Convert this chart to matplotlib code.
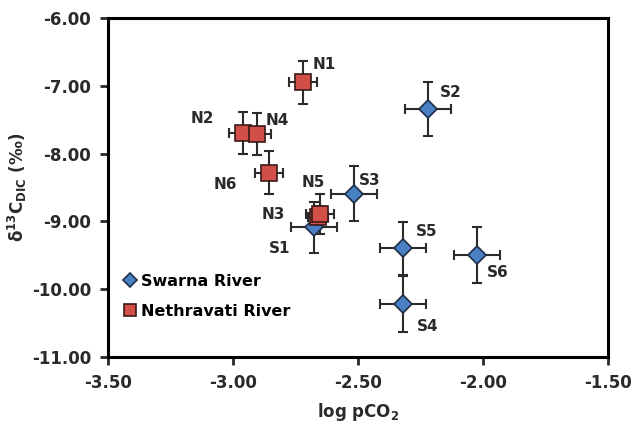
import matplotlib
matplotlib.use("Agg")
import matplotlib.pyplot as plt

plt.rcParams['font.family'] = ['DejaVu Sans']
plt.rcParams['font.weight'] = 'bold'
plt.rcParams['mathtext.default'] = 'bf'

# Swarna River (diamonds)
s_names = ['S1', 'S2', 'S3', 'S4', 'S5', 'S6']
s_x = [-2.675, -2.22, -2.515, -2.32, -2.32, -2.025]
s_y = [-9.09, -7.34, -8.59, -10.22, -9.40, -9.50]
s_xerr = [0.092, 0.092, 0.092, 0.092, 0.092, 0.092]
s_yerr = [0.38, 0.40, 0.40, 0.41, 0.39, 0.41]

# Nethravati River (squares)
n_names = ['N1', 'N2', 'N3', 'N4', 'N5', 'N6']
n_x = [-2.72, -2.96, -2.66, -2.905, -2.65, -2.855]
n_y = [-6.95, -7.70, -8.93, -7.71, -8.89, -8.28]
n_xerr = [0.056, 0.056, 0.04, 0.056, 0.056, 0.056]
n_yerr = [0.32, 0.31, 0.15, 0.31, 0.30, 0.31]

# label offsets in pixels (dx, dy, ha)
s_off = {'S1': (-24, -21, 'right'), 'S2': (12, 16, 'left'), 'S3': (5, 13, 'left'),
         'S4': (14, -22, 'left'), 'S5': (13, 17, 'left'), 'S6': (10, -17, 'left')}
n_off = {'N1': (10, 18, 'left'), 'N2': (-29, 15, 'right'), 'N3': (-33, 2, 'right'),
         'N4': (9, 13, 'left'), 'N5': (-7, 31, 'center'), 'N6': (-32, -12, 'right')}

fig = plt.figure(figsize=(6.35, 4.25), dpi=100)
ax = fig.add_axes([0.170, 0.160, 0.787, 0.798])

ebkw = dict(fmt='none', ecolor='#2b2b2b', elinewidth=1.5, capsize=3.5, capthick=1.5, zorder=2)
ax.errorbar(s_x, s_y, xerr=s_xerr, yerr=s_yerr, **ebkw)
ax.errorbar(n_x, n_y, xerr=n_xerr, yerr=n_yerr, **ebkw)

ax.plot(s_x, s_y, 'D', ms=9.5, mfc='#4a80c4', mec='#1f2d45', mew=1.2,
        ls='none', label='Swarna River', zorder=3)
ax.plot(n_x, n_y, 's', ms=11, mfc='#d24f47', mec='#3a1a18', mew=1.2,
        ls='none', label='Nethravati River', zorder=4)

for name, x, y in zip(s_names, s_x, s_y):
    dx, dy, ha = s_off[name]
    ax.annotate(name, (x, y), xytext=(dx, dy), textcoords='offset pixels',
                ha=ha, va='center', fontsize=11, fontweight='bold', color='#2a2a2a')
for name, x, y in zip(n_names, n_x, n_y):
    dx, dy, ha = n_off[name]
    ax.annotate(name, (x, y), xytext=(dx, dy), textcoords='offset pixels',
                ha=ha, va='center', fontsize=11, fontweight='bold', color='#2a2a2a')

ax.set_xlim(-3.5, -1.5)
ax.set_ylim(-11, -6)
ax.set_xticks([-3.5, -3.0, -2.5, -2.0, -1.5])
ax.set_yticks([-11, -10, -9, -8, -7, -6])
ax.set_xticklabels(['%.2f' % v for v in ax.get_xticks()])
ax.set_yticklabels(['%.2f' % v for v in ax.get_yticks()])
for sp in ax.spines.values():
    sp.set_linewidth(2.2)
ax.tick_params(direction='out', length=6, width=2, labelsize=12, colors='#2a2a2a')
ax.tick_params(axis='y', pad=6)
ax.tick_params(axis='x', pad=6)

ax.set_xlabel('log pCO$_2$', fontsize=12, fontweight='bold', labelpad=7, color='#2a2a2a')
ax.set_ylabel('δ$^{13}$C$_{DIC}$ (‰)', fontsize=12, fontweight='bold', labelpad=2, color='#2a2a2a')

ax.legend(loc='lower left', bbox_to_anchor=(0.0, 0.08), frameon=False, fontsize=11.5,
          handletextpad=0.1, handlelength=1.3, labelspacing=0.95, borderaxespad=0.3,
          markerscale=0.8)

fig.savefig('out.png', dpi=100)
